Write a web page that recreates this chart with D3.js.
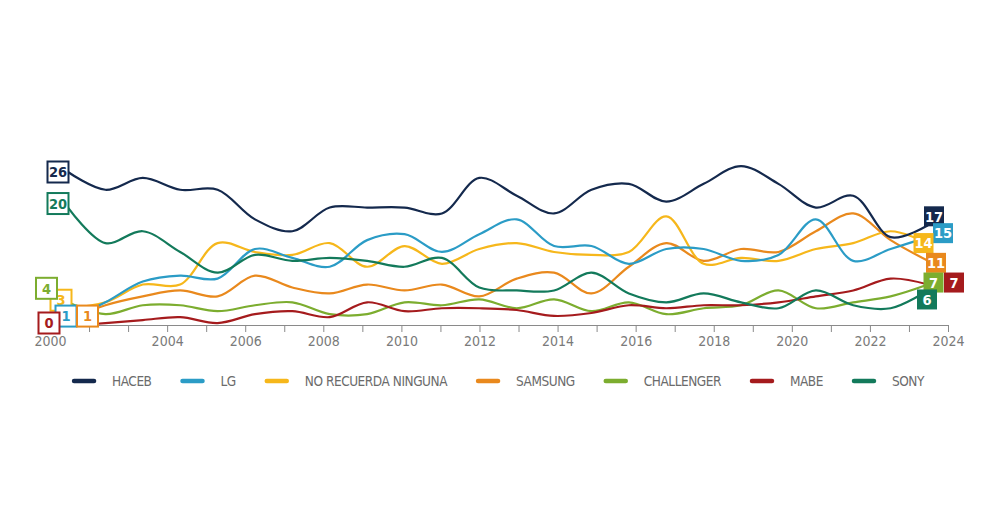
<!DOCTYPE html>
<html lang="es">
<head>
  <meta charset="UTF-8">
  <title>Marcas recordadas 2000-2024</title>
  <script src="https://d3js.org/d3.v7.min.js"></script>
  <style>
    body { margin: 0; background: #fff; }
    .axis text { font-family: "DejaVu Sans Condensed", sans-serif; font-size: 14px; fill: #7a7a7a; }
    .axis path, .axis line { stroke: #8a8a8a; }
    .legend text { font-family: "DejaVu Sans Condensed", sans-serif; font-size: 13.5px; letter-spacing: -0.45px; fill: #6b6b6b; }
    .box text { font-family: "DejaVu Sans Condensed", sans-serif; font-weight: bold; font-size: 14.5px; }
  </style>
</head>
<body>
<svg id="chart" width="1000" height="530"></svg>
<script>
  // years of the survey (one point per year)
  const years = d3.range(2000, 2024);

  // axis categories and which ones get a label
  const axisCats = ["2000", "2002", "2003", "2004", "2005", "2006", "2007", "2008", "2009", "2010", "2011", "2012",
    "2013", "2014", "2015", "2016", "2017", "2018", "2019", "2020", "2021", "2022", "2023", "2024"];
  const axisLabels = ["2000", "2004", "2006", "2008", "2010", "2012", "2014", "2016", "2018", "2020", "2022", "2024"];

  const names = ["HACEB", "LG", "NO RECUERDA NINGUNA", "SAMSUNG", "CHALLENGER", "MABE", "SONY"];
  const colors = ["#14294d", "#2b9cc6", "#f6b71b", "#e9891d", "#7cad2f", "#a51b1d", "#137a5b"];

  const haceb     = [26, 23, 25, 23, 23, 18, 16, 20, 20, 20, 19, 25, 22, 19, 23, 24, 21, 24, 27, 24, 20, 22, 15, 17];
  const lg        = [1, 4, 7.5, 8.5, 8, 13, 11.5, 10, 14.5, 15.5, 12.5, 15.5, 18, 13.5, 13.5, 10.5, 13, 13, 11, 12, 18, 11, 13, 15];
  const noRecuerda = [3, 4, 7, 7, 14, 12.5, 12, 14, 10, 13.5, 10.5, 13, 14, 12.5, 12, 12.5, 18.5, 10.5, 11.5, 11, 13, 14, 16, 14];
  const samsung   = [1, 3.5, 5, 6, 5, 8.5, 6.5, 5.5, 7, 6, 7, 5, 8, 9, 5.5, 10, 14, 11, 13, 12.5, 16, 19, 14.5, 11];
  const challenger = [4, 2, 3.5, 3.5, 2.5, 3.5, 4, 2, 2, 4, 3.5, 4.5, 3, 4.5, 2.5, 4, 2, 3, 3.5, 6, 3, 4, 5, 7];
  const mabe      = [0, 0.5, 1, 1.5, 0.5, 2, 2.5, 1.5, 4, 2.5, 3, 3, 2.7, 1.7, 2.2, 3.5, 3, 3.5, 3.5, 4, 5, 6, 8, 7];
  const sony      = [20, 14, 16, 12.5, 9, 12, 11, 11.5, 11, 10, 11.5, 6.5, 6, 6, 9, 5.5, 4, 5.5, 4, 3, 6, 3.5, 3, 6];

  const seriesValues = [haceb, lg, noRecuerda, samsung, challenger, mabe, sony];

  // label box offsets (px) from the first / last point, to keep boxes apart
  const startOffsets = [[-10, 0], [-2, -4], [-7, -8], [19.5, -4], [-21.5, -14], [-19, -3], [-10, -4]];
  const endOffsets = [[6, -9], [15, -4], [-4.5, 0], [8, 2], [5.5, -2], [26, -2], [-1, 9]];
  const startOrder = [2, 4, 1, 3, 5, 0, 6];
  const endOrder = [0, 1, 2, 3, 4, 5, 6];

  const svg = d3.select('#chart');

  const x = d3.scalePoint().domain(years).range([68, 928]);
  const y = d3.scaleLinear().domain([0, 26]).range([326, 172]);
  const xAxisScale = d3.scalePoint().domain(axisCats).range([50, 948]);

  // axis
  svg.append('g')
    .attr('class', 'axis')
    .attr('transform', 'translate(0,325)')
    .call(d3.axisBottom(xAxisScale)
      .tickSizeInner(7)
      .tickSizeOuter(0)
      .tickPadding(4)
      .tickFormat(d => axisLabels.includes(d) ? d : ''));

  const line = d3.line()
    .x((d, i) => x(years[i]))
    .y(d => y(d))
    .curve(d3.curveCatmullRom.alpha(0.5));

  // lines, drawn so the dark ones sit on top
  const drawOrder = [4, 5, 3, 2, 1, 6, 0];
  svg.append('g')
    .selectAll('path')
    .data(drawOrder)
    .enter().append('path')
    .attr('d', i => line(seriesValues[i]))
    .attr('fill', 'none')
    .attr('stroke', i => colors[i])
    .attr('stroke-width', 2.2);

  // start boxes (outlined)
  const startG = svg.append('g').attr('class', 'box');
  startOrder.forEach(i => {
    const v = seriesValues[i][0];
    const cx = x(years[0]) + startOffsets[i][0];
    const cy = y(v) + startOffsets[i][1];
    startG.append('rect')
      .attr('x', cx - 10.5).attr('y', cy - 10.5)
      .attr('width', 21).attr('height', 21)
      .attr('fill', '#fff')
      .attr('stroke', colors[i])
      .attr('stroke-width', 2);
    startG.append('text')
      .attr('x', cx).attr('y', cy)
      .attr('dy', '0.36em')
      .attr('text-anchor', 'middle')
      .attr('fill', colors[i])
      .text(v);
  });

  // end boxes (filled)
  const endG = svg.append('g').attr('class', 'box');
  endOrder.forEach(i => {
    const vals = seriesValues[i];
    const v = vals[vals.length - 1];
    const cx = x(years[years.length - 1]) + endOffsets[i][0];
    const cy = y(v) + endOffsets[i][1];
    endG.append('rect')
      .attr('x', cx - 10).attr('y', cy - 10)
      .attr('width', 20).attr('height', 20)
      .attr('fill', colors[i]);
    endG.append('text')
      .attr('x', cx).attr('y', cy)
      .attr('dy', '0.36em')
      .attr('text-anchor', 'middle')
      .attr('fill', '#fff')
      .text(v);
  });

  // legend
  const legend = svg.append('g').attr('class', 'legend').attr('transform', 'translate(0,381)');
  const items = legend.selectAll('g')
    .data(names)
    .enter().append('g');
  items.append('line')
    .attr('x1', 0).attr('x2', 20)
    .attr('stroke', (d, i) => colors[i])
    .attr('stroke-width', 4.5)
    .attr('stroke-linecap', 'round');
  items.append('text')
    .attr('x', 38)
    .attr('dy', '0.35em')
    .text(d => d);

  let pos = 0;
  const offsets = [];
  items.each(function (d, i) {
    const w = 38 + this.querySelector('text').getComputedTextLength();
    offsets.push(pos);
    pos += w + (i < names.length - 1 ? 31 : 0);
  });
  const start = 499 - pos / 2;
  items.attr('transform', (d, i) => `translate(${start + offsets[i]},0)`);
</script>
</body>
</html>
